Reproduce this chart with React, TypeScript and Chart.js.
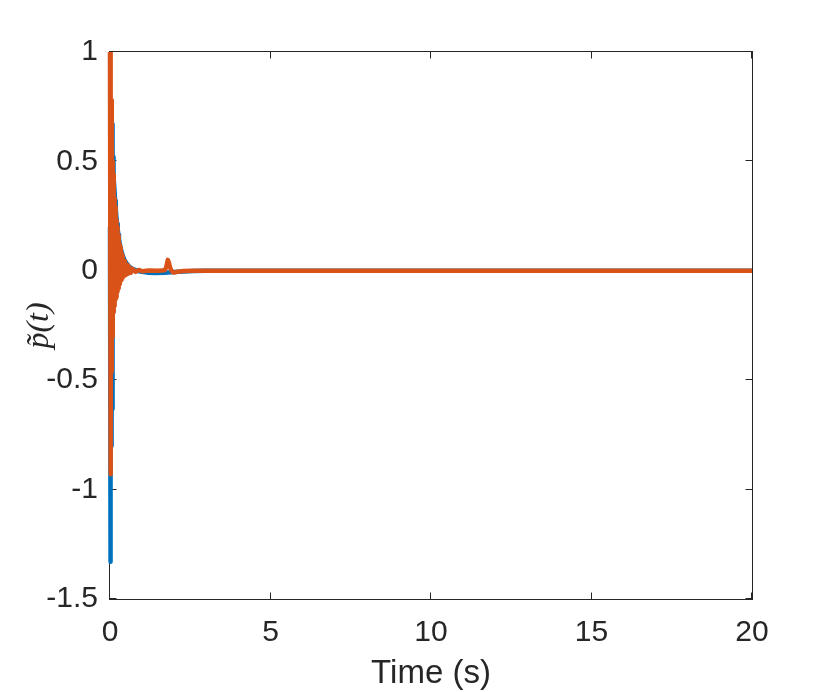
import { useEffect, useRef } from 'react';
import { Chart, registerables } from 'chart.js';

Chart.register(...registerables);

// Blue series: time (s) and p~(t)
const blueTime = [
  0, 0.005, 0.01, 0.015, 0.02, 0.025, 0.03, 0.035, 0.04, 0.045, 0.05, 0.055, 0.06, 0.065,
  0.07, 0.075, 0.08, 0.085, 0.09, 0.095, 0.1, 0.105, 0.11, 0.115, 0.12, 0.14, 0.16, 0.18,
  0.2, 0.22, 0.24, 0.26, 0.28, 0.3, 0.33, 0.36, 0.4, 0.45, 0.5, 0.55, 0.6, 0.7, 0.8, 0.9,
  1.0, 1.2, 1.4, 1.7, 2.0, 2.3, 2.6, 3.0, 5, 10, 15, 20,
];
const blueValues = [
  0.2, -1.33, 0.55, -1.15, 0.62, -0.95, 0.66, -0.8, 0.68, -0.7, 0.69, -0.65, 0.69, -0.63,
  0.67, -0.5, 0.62, -0.29, 0.57, -0.12, 0.52, -0.03, 0.47, 0.2, 0.43, 0.37, 0.32, 0.28,
  0.245, 0.215, 0.19, 0.165, 0.145, 0.128, 0.105, 0.087, 0.068, 0.05, 0.037, 0.027, 0.019, 0.009, 0.003, -0.002,
  -0.005, -0.009, -0.01, -0.009, -0.006, -0.003, -0.001, 0, 0, 0, 0, 0,
];

// Orange series: time (s) and p~(t)
const orangeTime = [
  0, 0.01, 0.02, 0.03, 0.04, 0.05, 0.06, 0.07, 0.08, 0.09, 0.1, 0.11, 0.12, 0.13, 0.14,
  0.15, 0.16, 0.17, 0.18, 0.19, 0.2, 0.21, 0.22, 0.23, 0.24, 0.25, 0.26, 0.27, 0.28, 0.29,
  0.3, 0.31, 0.32, 0.33, 0.34, 0.35, 0.36, 0.37, 0.38, 0.39, 0.4, 0.42, 0.44, 0.46, 0.48,
  0.5, 0.53, 0.56, 0.6, 0.65, 0.7, 0.8, 0.9, 1.0, 1.2, 1.5, 1.7, 1.75, 1.8, 1.83, 1.86,
  1.9, 1.95, 2.0, 2.1, 2.3, 2.6, 3.0, 5, 10, 15, 20,
];
const orangeValues = [
  1.0, -0.93, 0.98, -0.93, 0.78, -0.46, 0.6, -0.3, 0.5, -0.22, 0.44, -0.19, 0.38, -0.16, 0.33,
  -0.14, 0.29, -0.13, 0.26, -0.12, 0.23, -0.11, 0.2, -0.095, 0.18, -0.08, 0.16, -0.07, 0.14, -0.06,
  0.12, -0.052, 0.105, -0.046, 0.09, -0.04, 0.078, -0.035, 0.067, -0.031, 0.058, -0.027, 0.045, -0.022, 0.034,
  -0.018, 0.025, -0.013, 0.016, -0.009, 0.009, -0.005, 0.004, -0.002, 0.001, 0, 0.002, 0.015, 0.05, 0.04, 0.02,
  0.005, -0.006, -0.008, -0.004, -0.001, 0, 0, 0, 0, 0, 0,
];

const xTickValues = [0, 5, 10, 15, 20];
const yTickValues = [-1.5, -1, -0.5, 0, 0.5, 1];
const xAxisLabel = 'Time (s)';
const yAxisLabel = 'p\u0303(t)';

const AXIS_COLOR = '#262626';

const boxPlugin = {
  id: 'matlabBox',
  beforeDatasetsDraw(chart: any) {
    const { ctx, chartArea, scales } = chart;
    const { left, right, top, bottom } = chartArea;
    const tl = 6.5;
    ctx.save();
    ctx.strokeStyle = AXIS_COLOR;
    ctx.lineWidth = 1;
    ctx.strokeRect(left - 0.5, top - 0.5, right - left + 1, bottom - top + 1);
    ctx.beginPath();
    xTickValues.forEach((v) => {
      const px = Math.round(scales.x.getPixelForValue(v)) - 0.5;
      ctx.moveTo(px, bottom);
      ctx.lineTo(px, bottom - tl);
      ctx.moveTo(px, top);
      ctx.lineTo(px, top + tl);
    });
    yTickValues.forEach((v) => {
      const py = Math.round(scales.y.getPixelForValue(v)) - 0.5;
      ctx.moveTo(left, py);
      ctx.lineTo(left + tl, py);
      ctx.moveTo(right, py);
      ctx.lineTo(right - tl, py);
    });
    ctx.stroke();
    ctx.restore();
  },
};

export default function App() {
  const ref = useRef<HTMLCanvasElement>(null);

  useEffect(() => {
    const canvas = ref.current;
    if (!canvas) return;
    const toPoints = (ts: number[], vs: number[]) => ts.map((t, i) => ({ x: t, y: vs[i] }));
    const clip = { left: 3, top: 0, right: 0, bottom: 0 };
    const chart = new Chart(canvas, {
      type: 'line',
      data: {
        datasets: [
          {
            label: 'orange',
            data: toPoints(orangeTime, orangeValues),
            borderColor: '#D95319',
            backgroundColor: '#D95319',
            borderWidth: 4.5,
            pointRadius: 0,
            tension: 0,
            borderJoinStyle: 'round',
            fill: false,
            order: 1,
            clip,
          },
          {
            label: 'blue',
            data: toPoints(blueTime, blueValues),
            borderColor: '#0072BD',
            backgroundColor: '#0072BD',
            borderWidth: 4.5,
            pointRadius: 0,
            tension: 0,
            borderJoinStyle: 'round',
            fill: false,
            order: 2,
            clip,
          },
        ],
      } as any,
      options: {
        responsive: false,
        animation: false,
        devicePixelRatio: 1,
        layout: { padding: { left: 0, right: 78, top: 52, bottom: 0 } },
        plugins: { legend: { display: false }, tooltip: { enabled: false } },
        scales: {
          x: {
            type: 'linear',
            min: 0,
            max: 20,
            afterBuildTicks: (s: any) => {
              s.ticks = xTickValues.map((v) => ({ value: v }));
            },
            afterFit: (s: any) => {
              s.height = 93;
            },
            grid: { display: false, drawTicks: false },
            border: { display: false },
            ticks: {
              autoSkip: false,
              maxRotation: 0,
              padding: 16,
              color: AXIS_COLOR,
              font: { family: 'Liberation Sans', size: 30 },
              callback: (v: any) => String(v),
            },
            title: {
              display: true,
              text: xAxisLabel,
              color: AXIS_COLOR,
              font: { family: 'Liberation Sans', size: 33 },
              padding: { top: 0, bottom: -2 },
            },
          },
          y: {
            type: 'linear',
            min: -1.5,
            max: 1,
            afterBuildTicks: (s: any) => {
              s.ticks = yTickValues.map((v) => ({ value: v }));
            },
            afterFit: (s: any) => {
              s.width = 110;
            },
            grid: { display: false, drawTicks: false },
            border: { display: false },
            ticks: {
              autoSkip: false,
              padding: 12,
              color: AXIS_COLOR,
              font: { family: 'Liberation Sans', size: 30 },
              callback: (v: any) => String(v),
            },
            title: {
              display: true,
              text: yAxisLabel,
              color: AXIS_COLOR,
              font: { family: 'Liberation Serif', size: 32, style: 'italic' },
              padding: { top: 20, bottom: 0 },
            },
          },
        },
      } as any,
      plugins: [boxPlugin],
    });
    return () => chart.destroy();
  }, []);

  return (
    <div style={{ position: 'fixed', left: 0, top: 0, width: 830, height: 692, background: '#fff' }}>
      <canvas ref={ref} width={830} height={692} style={{ display: 'block', width: 830, height: 692 }} />
    </div>
  );
}
